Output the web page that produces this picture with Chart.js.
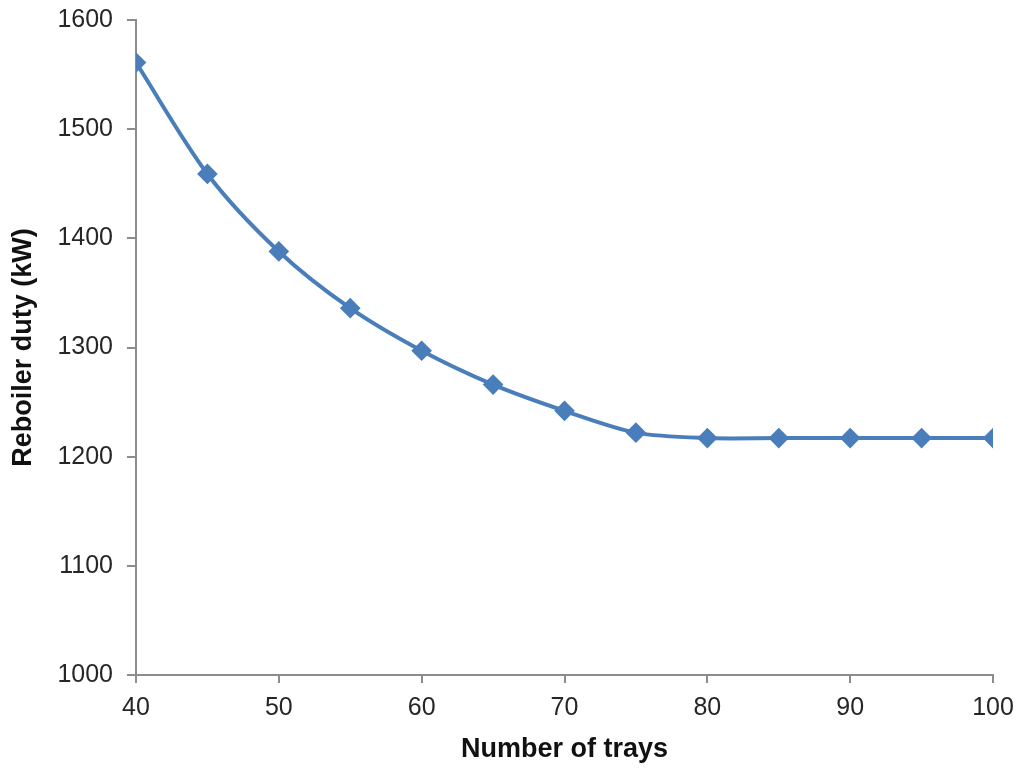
<!DOCTYPE html>
<html>
<head>
<meta charset="utf-8">
<script src="https://cdn.jsdelivr.net/npm/chart.js@4/dist/chart.umd.min.js"></script>
<style>
  html, body { margin: 0; padding: 0; background: #fff; }
  #wrap { width: 1024px; height: 771px; }
</style>
</head>
<body>
<div id="wrap"><canvas id="chart" width="1024" height="771"></canvas></div>
<script>
// Reboiler duty vs number of trays
const trays = [40, 45, 50, 55, 60, 65, 70, 75, 80, 85, 90, 95, 100];
const duty = [1561, 1459, 1388, 1336, 1297, 1266, 1242, 1222, 1217, 1217, 1217, 1217, 1217];
const xTicks = [40, 50, 60, 70, 80, 90, 100];
const yTicks = [1000, 1100, 1200, 1300, 1400, 1500, 1600];

const axisGray = '#8c8c8c';
const lineBlue = '#4a7ebb';
const fontFam = 'Liberation Sans, Arial, sans-serif';

const ctx = document.getElementById('chart').getContext('2d');
new Chart(ctx, {
  type: 'line',
  data: {
    datasets: [{
      data: trays.map((t, i) => ({ x: t, y: duty[i] })),
      borderColor: lineBlue,
      backgroundColor: lineBlue,
      borderWidth: 4,
      pointStyle: 'rectRot',
      pointRadius: 7.5,
      pointHoverRadius: 7.5,
      tension: 0.3, // close to Excel's smoothed line
      fill: false
    }]
  },
  options: {
    responsive: false,
    animation: false,
    layout: { padding: { left: 0, right: 31, top: 20, bottom: 0 } },
    plugins: {
      legend: { display: false },
      tooltip: { enabled: false }
    },
    scales: {
      x: {
        type: 'linear',
        min: xTicks[0],
        max: xTicks[xTicks.length - 1],
        afterBuildTicks: axis => { axis.ticks = xTicks.map(v => ({ value: v })); },
        afterFit: axis => { axis.height = 96; },
        grid: { display: true, drawOnChartArea: false, drawTicks: true, tickLength: 8, color: axisGray, lineWidth: 2 },
        border: { color: axisGray, width: 2 },
        ticks: { color: '#262626', font: { family: fontFam, size: 25 }, padding: 10, callback: v => String(v) },
        title: { display: true, text: 'Number of trays', color: '#111', font: { family: fontFam, size: 27, weight: 'bold' }, padding: { top: 4, bottom: 5 } }
      },
      y: {
        min: yTicks[0],
        max: yTicks[yTicks.length - 1],
        afterBuildTicks: axis => { axis.ticks = yTicks.map(v => ({ value: v })); },
        afterFit: axis => { axis.width = 136; axis.paddingTop = 0; axis.paddingBottom = 0; },
        grid: { display: true, drawOnChartArea: false, drawTicks: true, tickLength: 9, color: axisGray, lineWidth: 2 },
        border: { color: axisGray, width: 2 },
        ticks: { color: '#262626', font: { family: fontFam, size: 25 }, padding: 14, callback: v => String(v) },
        title: { display: true, text: 'Reboiler duty (kW)', color: '#111', font: { family: fontFam, size: 27, weight: 'bold' }, padding: { top: 7, bottom: 0 } }
      }
    }
  }
});
</script>
</body>
</html>
